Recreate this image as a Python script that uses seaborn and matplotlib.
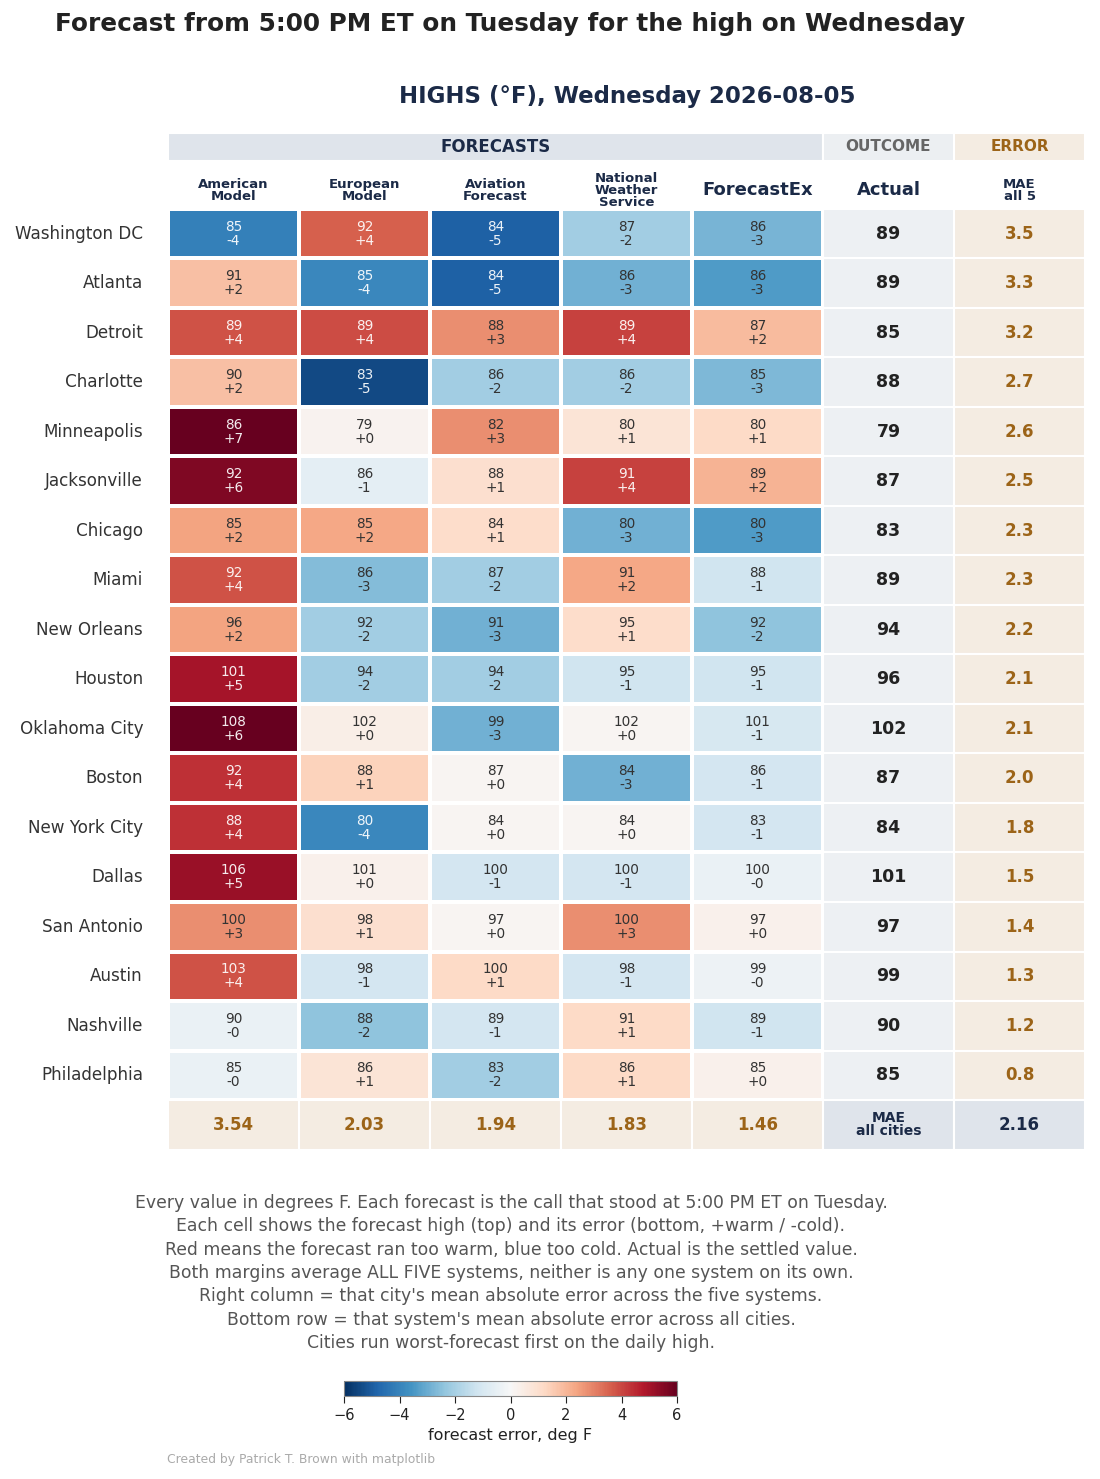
import matplotlib
matplotlib.use("Agg")
import matplotlib.pyplot as plt
from matplotlib.patches import Rectangle
from matplotlib.cm import ScalarMappable
from matplotlib.colors import Normalize
import numpy as np
import pandas as pd
import seaborn as sns

cities = ["Washington DC", "Atlanta", "Detroit", "Charlotte", "Minneapolis",
          "Jacksonville", "Chicago", "Miami", "New Orleans", "Houston",
          "Oklahoma City", "Boston", "New York City", "Dallas", "San Antonio",
          "Austin", "Nashville", "Philadelphia"]
models = ["American\nModel", "European\nModel", "Aviation\nForecast",
          "National\nWeather\nService", "ForecastEx"]

# forecast highs (deg F), one row per city, columns = models
forecast = [
    [85, 92, 84, 87, 86],
    [91, 85, 84, 86, 86],
    [89, 89, 88, 89, 87],
    [90, 83, 86, 86, 85],
    [86, 79, 82, 80, 80],
    [92, 86, 88, 91, 89],
    [85, 85, 84, 80, 80],
    [92, 86, 87, 91, 88],
    [96, 92, 91, 95, 92],
    [101, 94, 94, 95, 95],
    [108, 102, 99, 102, 101],
    [92, 88, 87, 84, 86],
    [88, 80, 84, 84, 83],
    [106, 101, 100, 100, 100],
    [100, 98, 97, 100, 97],
    [103, 98, 100, 98, 99],
    [90, 88, 89, 91, 89],
    [85, 86, 83, 86, 85],
]
# forecast error (deg F)
error = [
    [-4.1, 3.6, -4.9, -2.1, -2.8],
    [1.8, -3.9, -4.9, -2.9, -3.4],
    [3.8, 3.9, 2.8, 4.1, 1.9],
    [1.8, -5.4, -2.1, -2.1, -2.7],
    [6.8, 0.2, 2.8, 0.8, 1.2],
    [5.6, -0.6, 1.0, 4.1, 2.1],
    [2.4, 2.3, 1.1, -2.9, -3.4],
    [3.8, -2.6, -2.1, 2.3, -1.2],
    [2.4, -2.1, -2.9, 1.1, -2.4],
    [5.0, -2.1, -2.1, -1.2, -1.2],
    [6.2, 0.4, -2.9, 0.1, -1.0],
    [4.4, 1.4, 0.1, -2.9, -1.1],
    [4.4, -3.9, 0.1, 0.1, -1.1],
    [5.2, 0.3, -1.1, -1.1, -0.4],
    [2.8, 1.0, 0.1, 2.8, 0.3],
    [3.8, -1.1, 1.2, -1.1, -0.3],
    [-0.4, -2.4, -1.1, 1.2, -1.2],
    [-0.4, 0.8, -2.1, 1.2, 0.3],
]
actual = [89, 89, 85, 88, 79, 87, 83, 89, 94, 96, 102, 87, 84, 101, 97, 99, 90, 85]
city_mae = [3.5, 3.3, 3.2, 2.7, 2.6, 2.5, 2.3, 2.3, 2.2, 2.1, 2.1, 2.0, 1.8, 1.5, 1.4, 1.3, 1.2, 0.8]
model_mae = [3.54, 2.03, 1.94, 1.83, 1.46]
overall_mae = 2.16

notes = [
    "Every value in degrees F. Each forecast is the call that stood at 5:00 PM ET on Tuesday.",
    "Each cell shows the forecast high (top) and its error (bottom, +warm / -cold).",
    "Red means the forecast ran too warm, blue too cold. Actual is the settled value.",
    "Both margins average ALL FIVE systems, neither is any one system on its own.",
    "Right column = that city's mean absolute error across the five systems.",
    "Bottom row = that system's mean absolute error across all cities.",
    "Cities run worst-forecast first on the daily high.",
]

NAVY = "#1b2a47"
BROWN = "#9c6418"
plt.rcParams["font.family"] = ["DejaVu Sans"]

err_df = pd.DataFrame(error, index=cities, columns=models)
labels = np.array([[f"{f}\n{e:+.0f}" for f, e in zip(fr, er)]
                   for fr, er in zip(forecast, error)])

W, H = 1100, 1479
fig = plt.figure(figsize=(W / 100, H / 100), dpi=100)
ax = fig.add_axes([168 / W, 1 - 1150 / H, (1085 - 168) / W, (1150 - 133) / H])

sns.heatmap(err_df, ax=ax, cmap="RdBu_r", vmin=-6, vmax=6, cbar=False,
            linewidths=1.5, linecolor="white", annot=labels, fmt="",
            annot_kws={"fontsize": 9.8, "linespacing": 1.0})

# light text only on the strongly coloured cells
for t, e in zip(list(ax.texts), np.ravel(error)):
    if abs(e) >= 3.5:
        t.set_color("white")
        t.set_alpha(0.92)
    else:
        t.set_color("#333333")

n = len(cities)
top = -1.535
ax.set_xlim(0, 7)
ax.set_ylim(n + 1.01, top)

# outcome + error columns
for i in range(n):
    ax.add_patch(Rectangle((5, i), 1, 1, fc="#edf0f3", ec="white", lw=1.5))
    ax.add_patch(Rectangle((6, i), 1, 1, fc="#f4ece2", ec="white", lw=1.5))
    ax.text(5.5, i + 0.5, f"{actual[i]}", ha="center", va="center",
            fontsize=12.5, fontweight="bold", color="#222222")
    ax.text(6.5, i + 0.5, f"{city_mae[i]:.1f}", ha="center", va="center",
            fontsize=12, fontweight="bold", color=BROWN)

# bottom row: each system's MAE
for j in range(5):
    ax.add_patch(Rectangle((j, n), 1, 1, fc="#f4ece2", ec="white", lw=1.5))
    ax.text(j + 0.5, n + 0.5, f"{model_mae[j]:.2f}", ha="center", va="center",
            fontsize=12, fontweight="bold", color=BROWN)
ax.add_patch(Rectangle((5, n), 1, 1, fc="#dfe4eb", ec="white", lw=1.5))
ax.add_patch(Rectangle((6, n), 1, 1, fc="#dfe4eb", ec="white", lw=1.5))
ax.text(5.5, n + 0.5, "MAE\nall cities", ha="center", va="center",
        fontsize=10, fontweight="bold", color=NAVY, linespacing=0.9)
ax.text(6.5, n + 0.5, f"{overall_mae:.2f}", ha="center", va="center",
        fontsize=12, fontweight="bold", color=NAVY)

# group header bands
band_h = 0.565
ax.add_patch(Rectangle((0, top), 5, band_h, fc="#dfe4eb", ec="white", lw=1.5))
ax.add_patch(Rectangle((5, top), 1, band_h, fc="#eceff2", ec="white", lw=1.5))
ax.add_patch(Rectangle((6, top), 1, band_h, fc="#f4ece2", ec="white", lw=1.5))
by = top + band_h / 2
ax.text(2.5, by, "FORECASTS", ha="center", va="center", fontsize=12, fontweight="bold", color=NAVY)
ax.text(5.5, by, "OUTCOME", ha="center", va="center", fontsize=11, fontweight="bold", color="#666666")
ax.text(6.5, by, "ERROR", ha="center", va="center", fontsize=11, fontweight="bold", color=BROWN)

# column labels
ly = -0.38
for j, m in enumerate(models):
    big = m == "ForecastEx"
    ax.text(j + 0.5, ly, m, ha="center", va="center", fontsize=13 if big else 9.5,
            fontweight="bold", color=NAVY, linespacing=0.9)
ax.text(5.5, ly, "Actual", ha="center", va="center", fontsize=13, fontweight="bold", color=NAVY)
ax.text(6.5, ly, "MAE\nall 5", ha="center", va="center", fontsize=9.5,
        fontweight="bold", color=NAVY, linespacing=0.9)

ax.set_xticks([])
ax.set_yticks(np.arange(n) + 0.5)
ax.set_yticklabels(cities, fontsize=12.1, color="#333333", rotation=0)
ax.tick_params(axis="y", length=0, pad=18)
ax.set_xlabel("")
ax.set_ylabel("")
for s in ax.spines.values():
    s.set_visible(False)

fig.text(55 / W, 1 - 24 / H, "Forecast from 5:00 PM ET on Tuesday for the high on Wednesday",
         fontsize=17.8, fontweight="bold", color="#222222", va="center", ha="left")
fig.text(627 / W, 1 - 97 / H, "HIGHS (°F), Wednesday 2026-08-05",
         fontsize=16.5, fontweight="bold", color=NAVY, va="center", ha="center")

fig.text(511 / W, 1 - 1273 / H, "\n".join(notes), fontsize=12.4, color="#555555",
         ha="center", va="center", linespacing=1.38)

cax = fig.add_axes([344 / W, 1 - 1396 / H, 333 / W, 15 / H])
sm = ScalarMappable(norm=Normalize(-6, 6), cmap="RdBu_r")
cb = fig.colorbar(sm, cax=cax, orientation="horizontal", ticks=[-6, -4, -2, 0, 2, 4, 6])
cb.ax.tick_params(labelsize=10.5, colors="#222222", length=5)
cb.set_label("forecast error, deg F", fontsize=11.5, color="#222222")
cb.outline.set_edgecolor("#888888")

fig.text(167 / W, 1 - 1459 / H, "Created by Patrick T. Brown with matplotlib",
         fontsize=8.9, color="#aaaaaa", ha="left", va="center")

fig.savefig("out.png", dpi=100)
